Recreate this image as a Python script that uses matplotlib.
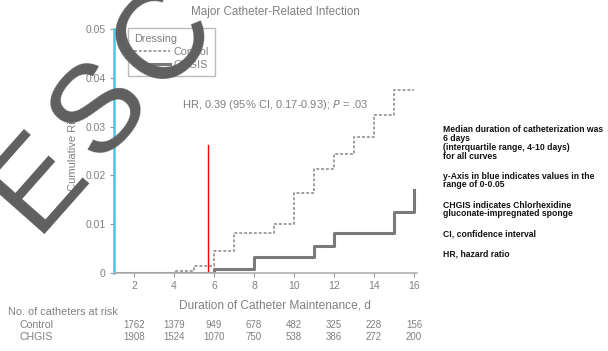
import numpy as np
import matplotlib
matplotlib.use("Agg")
import matplotlib.pyplot as plt
from matplotlib.transforms import blended_transform_factory

plt.rcParams['font.family'] = ['Liberation Sans', 'DejaVu Sans']

# Data
control_days = [1, 4, 5, 6, 7, 9, 10, 11, 12, 13, 14, 15, 16]
control_risk = [0, 0.0005, 0.0014, 0.0046, 0.0081, 0.0100, 0.0164, 0.0214,
                0.0244, 0.0279, 0.0324, 0.0376, 0.0376]
chgis_days = [1, 6, 8, 11, 12, 15, 16]
chgis_risk = [0, 0.0008, 0.0033, 0.0055, 0.0081, 0.0126, 0.0170]

median_day = 5.7
median_top = 0.0262

x_ticks = [2, 4, 6, 8, 10, 12, 14, 16]
y_ticks = [0, 0.01, 0.02, 0.03, 0.04, 0.05]
y_tick_labels = ["0", "0.01", "0.02", "0.03", "0.04", "0.05"]

control_at_risk = [1762, 1379, 949, 678, 482, 325, 228, 156]
chgis_at_risk = [1908, 1524, 1070, 750, 538, 386, 272, 200]

notes = [
    ["Median duration of catheterization was", "6 days",
     "(interquartile range, 4-10 days)", "for all curves"],
    ["y-Axis in blue indicates values in the", "range of 0-0.05"],
    ["CHGIS indicates Chlorhexidine", "gluconate-impregnated sponge"],
    ["CI, confidence interval"],
    ["HR, hazard ratio"],
]

W, H = 608, 351
fig = plt.figure(figsize=(W / 100, H / 100), dpi=100)
ax = fig.add_axes([114 / W, 1 - 273 / H, 303 / W, 244 / H])

grey = '#808080'

ax.step(control_days, control_risk, where='post', color='#a0a0a0', lw=1.4,
        linestyle=(0, (1.5, 1)), label='Control')
ax.step(chgis_days, chgis_risk, where='post', color='#7a7a7a', lw=2.2,
        label='CHGIS')
ax.plot([median_day, median_day], [0, median_top], color='red', lw=1.0)

ax.set_xlim(1, 16.15)
ax.set_ylim(0, 0.05)
ax.set_xticks(x_ticks)
ax.set_yticks(y_ticks)
ax.set_yticklabels(y_tick_labels)

for s in ['top', 'right']:
    ax.spines[s].set_visible(False)
ax.spines['left'].set_color('#4cc4e6')
ax.spines['left'].set_linewidth(1.8)
ax.spines['bottom'].set_color('#b0b0b0')
ax.spines['bottom'].set_linewidth(1.2)
ax.tick_params(colors='#999999', labelcolor=grey, length=3, width=0.8,
               labelsize=7.5, pad=3)

ax.set_xlabel("Duration of Catheter Maintenance, d", color=grey, fontsize=8.6)
ax.xaxis.set_label_coords(0.531, -0.108)
ax.set_ylabel("Cumulative Risk", color=grey, fontsize=8)
ax.yaxis.set_label_coords(-0.12, 0.5)

fig.text(275 / W, 1 - 12 / H, "Major Catheter-Related Infection", color=grey,
         fontsize=8.4, ha='center', va='center')

ax.text(9.05, 0.0344, r"HR, 0.39 (95% CI, 0.17-0.93); $\it{P}$ = .03",
        color=grey, fontsize=8, ha='center', va='center')

leg = ax.legend(title='Dressing', loc='upper left', bbox_to_anchor=(0.046, 1.005),
                borderaxespad=0, fontsize=7.8, title_fontsize=7.8, fancybox=False,
                handlelength=3.3, labelspacing=0.3, alignment='left',
                borderpad=0.55, handletextpad=0.4)
leg.get_frame().set_edgecolor('#aaaaaa')
leg.get_frame().set_linewidth(1.0)
for t in leg.get_texts():
    t.set_color(grey)
leg.get_title().set_color(grey)

# Risk table
tr = blended_transform_factory(ax.transData, fig.transFigure)
fig.text(8 / W, 1 - 312 / H, "No. of catheters at risk", color=grey,
         fontsize=7.8, va='center')
fig.text(20 / W, 1 - 325 / H, "Control", color=grey, fontsize=7.6, va='center')
fig.text(20 / W, 1 - 337 / H, "CHGIS", color=grey, fontsize=7.6, va='center')
for d, c, g in zip(x_ticks, control_at_risk, chgis_at_risk):
    ax.text(d, 1 - 325 / H, str(c), transform=tr, color=grey, fontsize=7,
            ha='center', va='center')
    ax.text(d, 1 - 337 / H, str(g), transform=tr, color=grey, fontsize=7,
            ha='center', va='center')

# Notes on the right
y = 130
for group in notes:
    for line in group:
        fig.text(443 / W, 1 - y / H, line, fontsize=6.2, fontweight='bold',
                 color='#111111', va='center')
        y += 8.7
    y += 11.5

# Watermark: spaced letters along a rising diagonal
wm_size = 90
angle = 48.5
em = wm_size * 100 / 72
th = np.radians(angle)
cx, cy = 92, 102          # centre of the middle letter, pixels from top-left
step = 95
for i, ch in enumerate("ESC"):
    k = i - 1
    px = cx + k * step * np.cos(th) + 0.358 * em * np.sin(th)
    py = cy - k * step * np.sin(th) + 0.358 * em * np.cos(th)
    fig.text(px / W, 1 - py / H, ch, fontsize=wm_size,
             color='#5f5f5f', rotation=angle, rotation_mode='anchor',
             ha='center', va='baseline', zorder=10)

fig.savefig("out.png", dpi=100)
